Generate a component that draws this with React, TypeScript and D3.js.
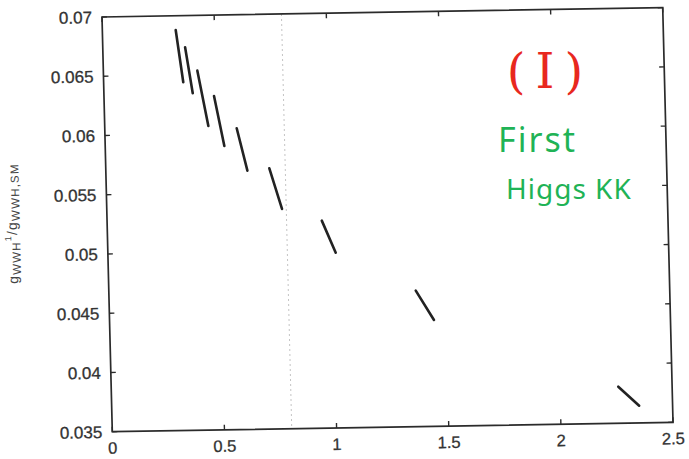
import React from "react";
import * as d3 from "d3";

const W = 689;
const H = 459;

// Segment endpoints (x, y)
const segX0 = [0.327, 0.367, 0.419, 0.4905, 0.588, 0.729, 0.957, 1.368, 2.26];
const segY0 = [0.0688, 0.06733, 0.06534, 0.06318, 0.06042, 0.057, 0.05251, 0.04647, 0.03808];
const segX1 = [0.355, 0.396, 0.462, 0.531, 0.631, 0.781, 1.0156, 1.446, 2.351];
const segY1 = [0.06438, 0.06344, 0.06066, 0.05895, 0.05683, 0.05355, 0.04979, 0.04397, 0.03645];

const xTicks = [0, 0.5, 1, 1.5, 2, 2.5];
const xTickLabels = ["0", "0.5", "1", "1.5", "2", "2.5"];
const yTicks = [0.035, 0.04, 0.045, 0.05, 0.055, 0.06, 0.065, 0.07];
const yTickLabels = ["0.035", "0.04", "0.045", "0.05", "0.055", "0.06", "0.065", "0.07"];
const dottedX = [0.8];

export default function App() {
  const left = 112.3, right = 673.1, top = 16.9, bottom = 431.7;
  const x = d3.scaleLinear().domain([0, 2.5]).range([left, right]);
  const y = d3.scaleLinear().domain([0.035, 0.07]).range([bottom, top]);
  const line = d3.line<[number, number]>().x(d => x(d[0])).y(d => y(d[1]));
  const font = "'Liberation Sans', Arial, sans-serif";
  const tl = 5;
  const ink = "#2b2b2b";
  return (
    <svg width={W} height={H} style={{ position: "fixed", left: 0, top: 0, background: "#fff" }}>
      <g transform="matrix(0.99986,-0.01676,0.02483,0.99976,-10.703,1.986)">
        {dottedX.map((v, i) => (
          <line key={i} x1={x(v)} x2={x(v)} y1={top} y2={bottom} stroke="#c4c4c4" strokeWidth={1} strokeDasharray="2,3" />
        ))}
        <rect x={left} y={top} width={right - left} height={bottom - top} fill="none" stroke={ink} strokeWidth={1.7} />
        {yTicks.map((t, i) => (
          <g key={"y" + i}>
            <line x1={left} x2={left + tl} y1={y(t)} y2={y(t)} stroke={ink} strokeWidth={1.4} />
            <line x1={right} x2={right - tl} y1={y(t)} y2={y(t)} stroke={ink} strokeWidth={1.4} />
            <text x={left - 10} y={y(t)} dy="0.36em" textAnchor="end" fontFamily={font} fontSize={17} fill="#333" stroke="#333" strokeWidth={0.3}>
              {yTickLabels[i]}
            </text>
          </g>
        ))}
        {xTicks.map((t, i) => (
          <g key={"x" + i}>
            <line x1={x(t)} x2={x(t)} y1={bottom} y2={bottom - tl} stroke={ink} strokeWidth={1.4} />
            <line x1={x(t)} x2={x(t)} y1={top} y2={top + tl} stroke={ink} strokeWidth={1.4} />
            <text x={x(t)} y={bottom + 22} textAnchor="middle" fontFamily={font} fontSize={16.5} fill="#333" stroke="#333" strokeWidth={0.3}>
              {xTickLabels[i]}
            </text>
          </g>
        ))}
        {segX0.map((v, i) => (
          <path key={"s" + i} d={line([[v, segY0[i]], [segX1[i], segY1[i]]]) || ""} stroke="#222" strokeWidth={2.6} strokeLinecap="round" fill="none" />
        ))}
        <text transform="translate(22, 222) rotate(-90)" textAnchor="middle" fontFamily={font} fontSize={14} letterSpacing={1.2} fill="#444">
          g<tspan fontSize={11.5} dy={3}>WWH</tspan><tspan fontSize={9} dy={-9}>1</tspan><tspan fontSize={14} dy={6}>/g</tspan><tspan fontSize={11.5} dy={3}>WWH,SM</tspan>
        </text>
      </g>
      <text x={550} y={88} textAnchor="middle" fontFamily="'DejaVu Serif', serif" fontSize={48} letterSpacing={10} fill="#e8281e">
        (I)
      </text>
      <text x={498} y={152} fontFamily="'Noto Sans', sans-serif" fontSize={34} letterSpacing={2} fill="#1fb356">
        First
      </text>
      <text x={506} y={199} fontFamily="'Noto Sans', sans-serif" fontSize={28} letterSpacing={1} fill="#1fb356">
        Higgs KK
      </text>
    </svg>
  );
}
